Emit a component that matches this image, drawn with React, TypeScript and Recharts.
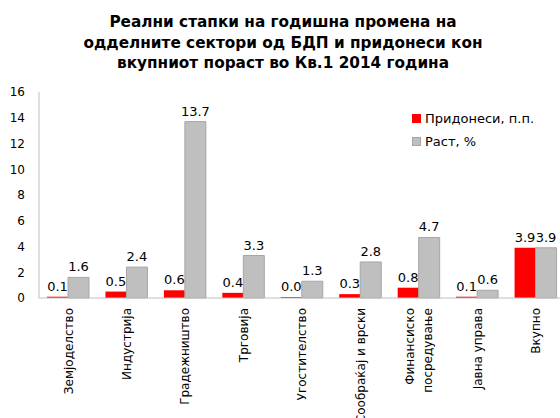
import { BarChart, Bar, XAxis, YAxis, LabelList } from "recharts";

const sectors = [
  "Земјоделство",
  "Индустрија",
  "Градежништво",
  "Трговија",
  "Угостителство",
  "Сообраќај и врски",
  "Финансиско\nпосредување",
  "Јавна управа",
  "Вкупно",
];
const contributions = [0.1, 0.5, 0.6, 0.4, 0.0, 0.3, 0.8, 0.1, 3.9];
const growth = [1.6, 2.4, 13.7, 3.3, 1.3, 2.8, 4.7, 0.6, 3.9];
const yTicks = [0, 2, 4, 6, 8, 10, 12, 14, 16];

const titleLines = [
  "Реални стапки на годишна промена на",
  "одделните сектори од БДП и придонеси кон",
  "вкупниот пораст во Кв.1 2014 година",
];

const FONT = "'DejaVu Sans', Verdana, sans-serif";

const data = sectors.map((name, i) => ({
  name,
  contrib: contributions[i],
  growth: growth[i],
}));

function CategoryTick(props: any) {
  const { x, y, payload } = props;
  const lines = String(payload.value).split("\n");
  const lh = 18;
  const first = 4.3 - ((lines.length - 1) * lh) / 2;
  return (
    <g transform={`translate(${x},${y + 2})`}>
      <text transform="rotate(-90)" textAnchor="end" fontSize={12} fill="#000" fontFamily={FONT}>
        {lines.map((l, i) => (
          <tspan key={i} x={0} dy={i === 0 ? first : lh}>
            {l}
          </tspan>
        ))}
      </text>
    </g>
  );
}

function LegendBox() {
  const items = [
    { label: "Придонеси, п.п.", color: "#FF0000", stroke: "none" },
    { label: "Раст, %", color: "#BFBFBF", stroke: "#A6A6A6" },
  ];
  return (
    <div
      style={{
        position: "absolute",
        left: 412,
        top: 107,
        fontFamily: FONT,
        fontSize: 13,
        color: "#000",
      }}
    >
      {items.map((it) => (
        <div key={it.label} style={{ display: "flex", alignItems: "center", height: 23 }}>
          <span
            style={{
              display: "inline-block",
              width: 9,
              height: 9,
              background: it.color,
              border: it.stroke === "none" ? "none" : `1px solid ${it.stroke}`,
              boxSizing: "border-box",
              marginRight: 4,
            }}
          />
          {it.label}
        </div>
      ))}
    </div>
  );
}

export default function App() {
  return (
    <div
      style={{
        position: "absolute",
        left: 0,
        top: 0,
        width: 560,
        height: 418,
        overflow: "hidden",
        background: "#fff",
      }}
    >
      <div
        style={{
          position: "absolute",
          left: 3,
          top: 12,
          width: 560,
          textAlign: "center",
          fontFamily: FONT,
          fontWeight: "bold",
          fontSize: 15.3,
          lineHeight: "20.5px",
          color: "#000",
        }}
      >
        {titleLines.map((t) => (
          <div key={t}>{t}</div>
        ))}
      </div>
      <BarChart
        width={565}
        height={418}
        data={data}
        margin={{ top: 92, right: 0, bottom: 0, left: 0 }}
        barGap={0}
        style={{ position: "absolute", left: 0, top: 0 }}
      >
        <XAxis
          dataKey="name"
          interval={0}
          height={120}
          tickLine={false}
          stroke="#BFBFBF"
          tick={<CategoryTick />}
        />
        <YAxis
          width={39}
          domain={[0, 16]}
          ticks={yTicks}
          tickLine={false}
          stroke="#BFBFBF"
          tickMargin={8}
          tick={{ fill: "#000", fontSize: 12, fontFamily: FONT }}
        />
        <Bar dataKey="contrib" fill="#FF0000" barSize={21} minPointSize={1} isAnimationActive={false}>
          <LabelList
            dataKey="contrib"
            position="top"
            offset={6}
            formatter={(v: any) => Number(v).toFixed(1)}
            style={{ fill: "#000", fontSize: 13, fontFamily: FONT }}
          />
        </Bar>
        <Bar dataKey="growth" fill="#BFBFBF" stroke="#A6A6A6" barSize={21} isAnimationActive={false}>
          <LabelList
            dataKey="growth"
            position="top"
            offset={6}
            formatter={(v: any) => Number(v).toFixed(1)}
            style={{ fill: "#000", fontSize: 13, fontFamily: FONT }}
          />
        </Bar>
      </BarChart>
      <LegendBox />
    </div>
  );
}
